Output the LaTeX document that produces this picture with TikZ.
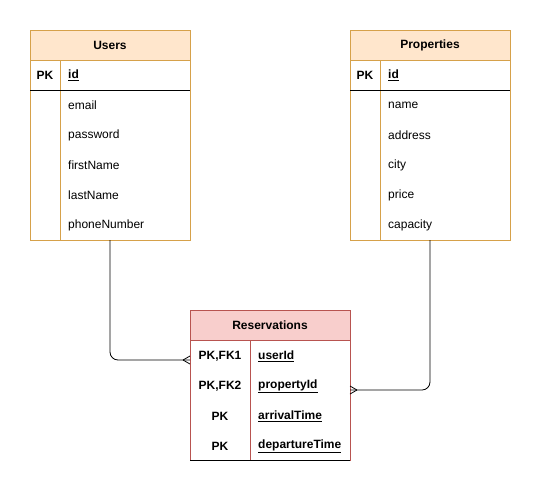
\documentclass[tikz,border=0pt]{standalone}
\usepackage{fontspec}
\setmainfont{Liberation Sans}
\usetikzlibrary{calc}
\definecolor{ubd}{HTML}{D6A14A}
\definecolor{ufill}{HTML}{FFE6CC}
\definecolor{rbd}{HTML}{B85450}
\definecolor{rfill}{HTML}{F8CECC}
\tikzset{
  tbl/.style={draw=#1, line width=0.8pt, inner sep=0pt, outer sep=0pt, anchor=north west},
  txt/.style={font=\fontsize{12}{14}\selectfont, inner sep=0pt, anchor=west},
  ctxt/.style={font=\fontsize{12}{14}\selectfont, inner sep=0pt, anchor=center},
  hdr/.style={font=\fontsize{12}{14}\selectfont\bfseries, inner sep=0pt, anchor=center},
  conn/.style={line width=0.8pt, rounded corners=8pt},
  crow/.style={line width=0.8pt},
}
\newcommand{\ul}[1]{\underline{#1}}
\begin{document}
\begin{tikzpicture}[x=1pt,y=-1pt]
\useasboundingbox[fill=white] (0,0) rectangle (541,491);

% ---------- Users ----------
\fill[ufill] (30,30) rectangle (190,60);
\node[tbl=ubd, minimum width=160pt, minimum height=210pt] (users) at (30,30) {};
\draw[ubd, line width=0.8pt] (30,60) -- (190,60);
\draw[ubd, line width=0.8pt] (60,60) -- (60,240);
\draw[black, line width=0.8pt] (30,90) -- (190,90);
\node[hdr] (uh) at (110,45) {Users};
\node[ctxt, font=\fontsize{12}{14}\selectfont\bfseries] (upk) at (45,75) {PK};
\node[txt, font=\fontsize{12}{14}\selectfont\bfseries] (uid) at (68,75) {\ul{id}};
\node[txt] (u1) at (68,105) {email};
\node[txt] (u2) at (68,135) {password};
\node[txt] (u3) at (68,165) {firstName};
\node[txt] (u4) at (68,195) {lastName};
\node[txt] (u5) at (68,225) {phoneNumber};

% ---------- Properties ----------
\fill[ufill] (350,30) rectangle (510,60);
\node[tbl=ubd, minimum width=160pt, minimum height=210pt] (props) at (350,30) {};
\draw[ubd, line width=0.8pt] (350,60) -- (510,60);
\draw[ubd, line width=0.8pt] (380,60) -- (380,240);
\draw[black, line width=0.8pt] (350,90) -- (510,90);
\node[hdr] (ph) at (430,45) {Properties};
\node[ctxt, font=\fontsize{12}{14}\selectfont\bfseries] (ppk) at (365,75) {PK};
\node[txt, font=\fontsize{12}{14}\selectfont\bfseries] (pid) at (388,75) {\ul{id}};
\node[txt] (p1) at (388,105) {name};
\node[txt] (p2) at (388,135) {address};
\node[txt] (p3) at (388,165) {city};
\node[txt] (p4) at (388,195) {price};
\node[txt] (p5) at (388,225) {capacity};

% ---------- Reservations ----------
\fill[rfill] (190,310) rectangle (350,340);
\node[tbl=rbd, minimum width=160pt, minimum height=150pt] (res) at (190,310) {};
\draw[rbd, line width=0.8pt] (190,340) -- (350,340);
\draw[rbd, line width=0.8pt] (250,340) -- (250,460);
\draw[black, line width=0.8pt] (190,460) -- (350,460);
\node[hdr] (rh) at (270,325) {Reservations};
\node[hdr] (rk1) at (220,356) {PK,FK1};
\node[hdr] (rk2) at (220,386) {PK,FK2};
\node[hdr] (rk3) at (220,416) {PK};
\node[hdr] (rk4) at (220,446) {PK};
\node[txt, font=\fontsize{12}{14}\selectfont\bfseries] (rf1) at (258,356) {\ul{userId}};
\node[txt, font=\fontsize{12}{14}\selectfont\bfseries] (rf2) at (258,386) {\ul{propertyId}};
\node[txt, font=\fontsize{12}{14}\selectfont\bfseries] (rf3) at (258,416) {\ul{arrivalTime}};
\node[txt, font=\fontsize{12}{14}\selectfont\bfseries] (rf4) at (258,446) {\ul{departureTime}};

% ---------- Connectors ----------
\coordinate (e1) at (190,360);
\coordinate (e2) at (350,390);
\draw[conn] (users.south) |- (e1);
\draw[conn] (props.south) |- (e2);
% crow's feet
\draw[crow] ($(e1)+(-7,0)$) -- ($(e1)+(0,-4)$);
\draw[crow] ($(e1)+(-7,0)$) -- ($(e1)+(0,4)$);
\draw[crow] ($(e2)+(7,0)$) -- ($(e2)+(0,-4)$);
\draw[crow] ($(e2)+(7,0)$) -- ($(e2)+(0,4)$);
\end{tikzpicture}
\end{document}
